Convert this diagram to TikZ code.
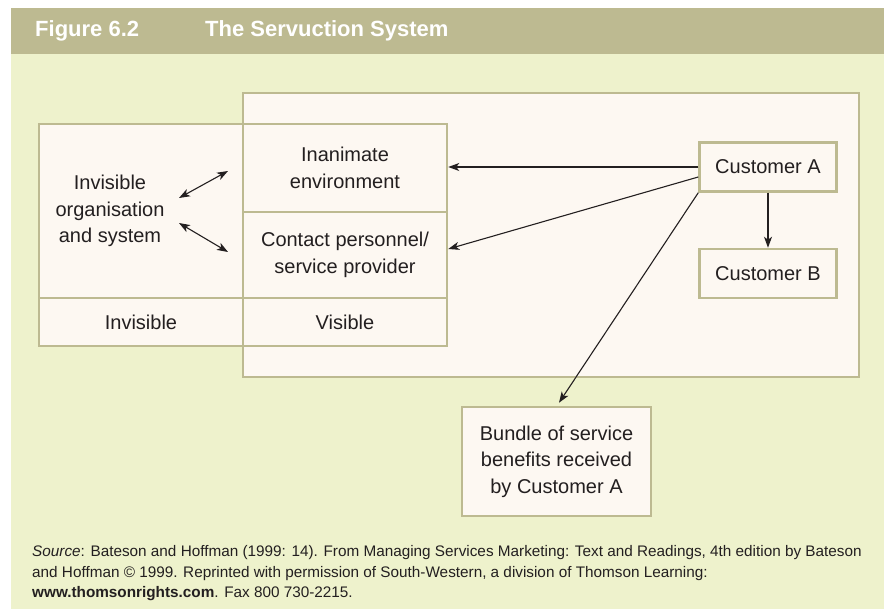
\documentclass[tikz,border=0pt]{standalone}
\usepackage{fontspec}
\setmainfont{Liberation Sans}
\usetikzlibrary{arrows.meta}
\definecolor{bar}{RGB}{189,186,145}
\definecolor{panel}{RGB}{238,242,204}
\definecolor{cell}{RGB}{253,248,242}
\definecolor{ink}{RGB}{35,31,32}
\begin{document}
\begin{tikzpicture}[x=1pt,y=-1pt,
  box/.style n args={2}{draw=bar,line width=2.5pt,fill=cell,
    minimum width=#1,minimum height=#2,inner sep=0pt,align=center,
    text=ink,font=\fontsize{20}{26.5}\selectfont},
  label/.style={inner sep=0pt,align=center,text=ink,
    font=\fontsize{20}{26.5}\selectfont},
  tip/.tip={Stealth[length=11pt,width=8pt,inset=3pt]},
  arr/.style={-tip,line width=1.1pt,draw=ink},
  darr/.style={tip-tip,line width=1.1pt,draw=ink},
  src/.style={anchor=base west,inner sep=0pt,text=ink,
    font=\fontsize{15.3}{20}\selectfont}]
\useasboundingbox (0,0) rectangle (884,609);
% page background and header band
\fill[panel] (11,54) rectangle (884,609);
\fill[bar] (11,8) rectangle (884,54);
\node[anchor=base west,inner sep=0pt,text=white,
  font=\fontsize{22}{26}\selectfont\bfseries] (fig) at (35,37) {Figure 6.2};
\node[anchor=base west,inner sep=0pt,text=white,
  font=\fontsize{22}{26}\selectfont\bfseries] (title) at (205,37) {The Servuction System};

% visible part of the system
\node[box={616pt}{284pt}] (outer) at (551,235) {};
% invisible organisation
\node[box={204pt}{174pt}] (org) at (141,211) {};
\node[label] (orgtxt) at (110,211) {Invisible\\organisation\\and system};
\node[box={204pt}{48pt}] (invis) at (141,322) {Invisible};
% front-stage cells
\node[box={204pt}{88pt}] (inan) at (345,168) {Inanimate\\environment};
\node[box={204pt}{86pt}] (contact) at (345,255) {Contact personnel/\\service provider};
\node[box={204pt}{48pt}] (visible) at (345,322) {Visible};
% customers and outcome
\node[box={137pt}{49pt}] (custA) at (768,167) {Customer A};
\node[box={137pt}{49pt}] (custB) at (768,273.5) {Customer B};
\node[box={189pt}{109pt}] (bundle) at (556.5,461.5) {Bundle of service\\benefits received\\by Customer A};

% links between invisible organisation and front stage
\coordinate (d1s) at (179,198);
\coordinate (d1e) at (228,171);
\coordinate (d2s) at (179,223);
\coordinate (d2e) at (228,252);
\draw[darr] (d1s) -- (d1e);
\draw[darr] (d2s) -- (d2e);

% customer interactions
\draw[arr] (custA.west) -- (inan.east |- custA.west);
\draw[arr] ([yshift=-10pt]custA.west) -- ([yshift=6pt]contact.east);
\draw[arr] (custA.south west) -- ([xshift=2.5pt,yshift=3pt]bundle.north);
\draw[arr] (custA.south) -- (custB.north);

% source note
\node[src] (s1) at (32,556) {\textit{Source}: Bateson and Hoffman (1999: 14). From Managing Services Marketing: Text and Readings, 4th edition by Bateson};
\node[src] (s2) at (32,577) {and Hoffman © 1999. Reprinted with permission of South-Western, a division of Thomson Learning:};
\node[src] (s3) at (32,597) {\textbf{www.thomsonrights.com}. Fax 800 730-2215.};
\end{tikzpicture}
\end{document}
